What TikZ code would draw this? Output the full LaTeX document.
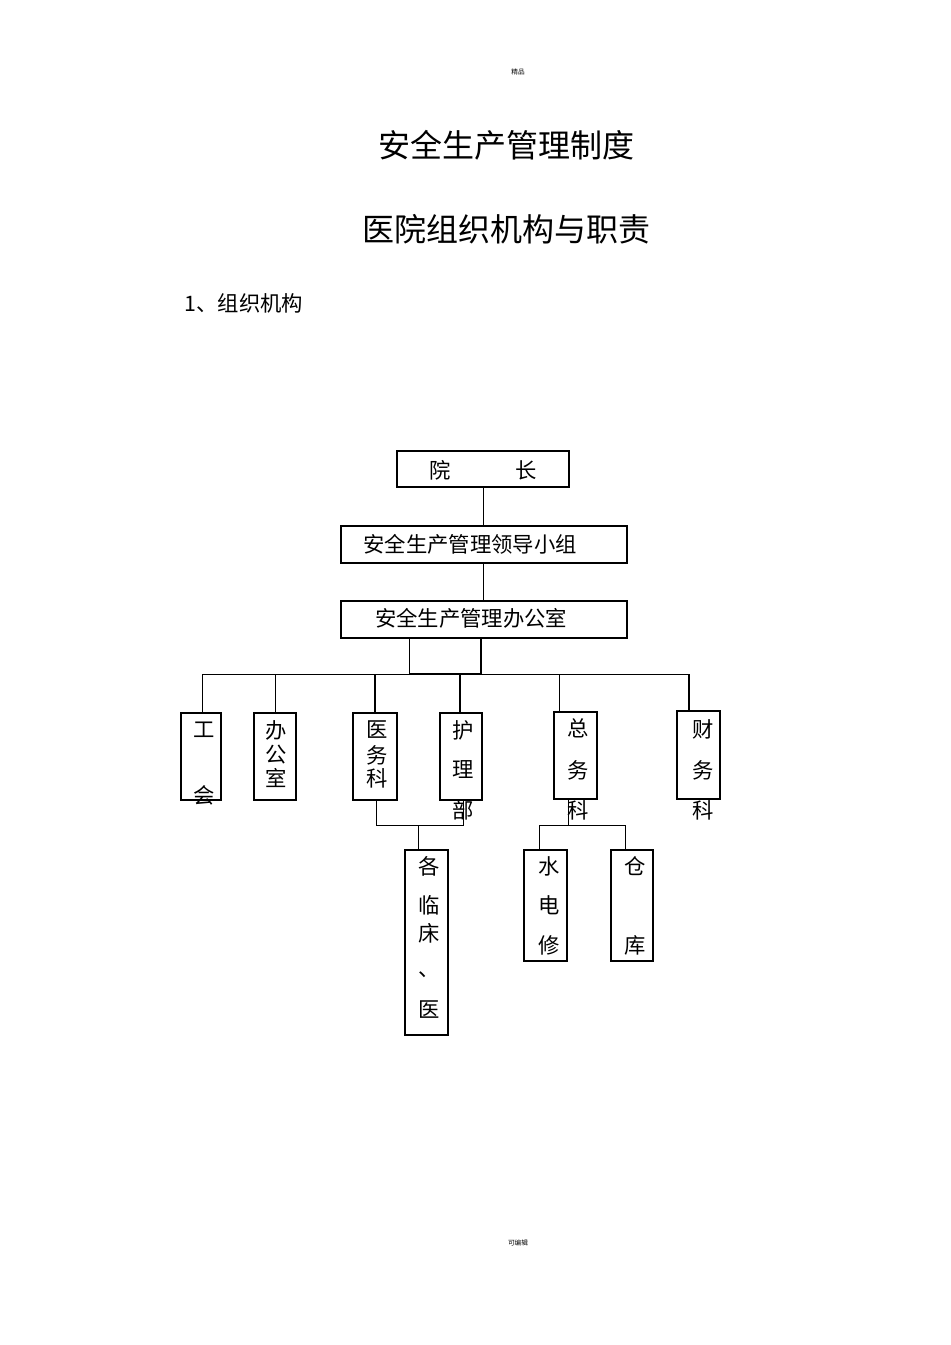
\documentclass[tikz,border=0pt]{standalone}
\usepackage{fontspec}
\setmainfont{Noto Sans CJK SC}
\begin{document}
\begin{tikzpicture}[x=0.75pt,y=-0.75pt,
  bx/.style={draw,line width=0.8pt},
  ln/.style={line width=0.7pt},
  tk/.style={line width=1.4pt},
  t/.style={inner sep=0pt,font=\fontsize{16}{16}\selectfont}]
\useasboundingbox (0,0) rectangle (950,1345);
\node[font=\fontsize{5}{5}\selectfont] (jp) at (518,72) {精品};
\node[font=\fontsize{5}{5}\selectfont] (kb) at (518,1243) {可编辑};
\node[font=\fontsize{24}{24}\selectfont] (t1) at (506,145) {安全生产管理制度};
\node[font=\fontsize{24}{24}\selectfont] (t2) at (506,229) {医院组织机构与职责};
\node[font=\fontsize{16}{16}\selectfont,anchor=west] (t3) at (180,303) {1、组织机构};
% boxes
\draw[bx] (397,451) rectangle (569,487);
\node[t] (yz) at (483,470) {院\hspace{3em}长};
\draw[bx] (341,526) rectangle (627,563);
\node[t] (ld) at (470,544) {安全生产管理领导小组};
\draw[bx] (341,601) rectangle (627,638);
\node[t] (bg) at (471,618) {安全生产管理办公室};
\draw[ln] (483,487) -- (483,526);
\draw[ln] (483,563) -- (483,601);
\draw[ln] (409,638) -- (409,674);
\draw[tk] (481,638) -- (481,674) -- (409,674);
\draw[ln] (202,674) -- (689,674);
\draw[ln] (202,674) -- (202,713);
\draw[ln] (275,674) -- (275,713);
\draw[tk] (375,674) -- (375,713);
\draw[tk] (460,674) -- (460,713);
\draw[ln] (559,674) -- (559,712);
\draw[tk] (689,674) -- (689,711);
\draw[bx] (181,713) rectangle (221,800);
\node[t] at (204,730) {工}; \node[t] at (204,795) {会};
\draw[bx] (254,713) rectangle (296,800);
\node[t] at (276,730) {办}; \node[t] at (276,755) {公}; \node[t] at (276,778) {室};
\draw[bx] (353,713) rectangle (397,800);
\node[t] at (377,730) {医}; \node[t] at (377,755) {务}; \node[t] at (377,778) {科};
\draw[bx] (440,713) rectangle (482,800);
\node[t] at (463,730) {护}; \node[t] at (463,770) {理}; \node[t] at (463,810) {部};
\draw[bx] (554,712) rectangle (597,799);
\node[t] at (578,728) {总}; \node[t] at (578,770) {务}; \node[t] at (578,810) {科};
\draw[bx] (677,711) rectangle (720,799);
\node[t] at (703,729) {财}; \node[t] at (703,770) {务}; \node[t] at (703,810) {科};
% lower
\draw[ln] (376,800) -- (376,825) -- (463,825) -- (463,800);
\draw[ln] (418,825) -- (418,850);
\draw[bx] (405,850) rectangle (448,1035);
\node[t] at (429,866) {各}; \node[t] at (429,905) {临}; \node[t] at (429,933) {床};
\node[t] at (429,975) {、}; \node[t] at (429,1010) {医};
\draw[ln] (568,799) -- (568,825);
\draw[ln] (539,850) -- (539,825) -- (625,825) -- (625,850);
\draw[bx] (524,850) rectangle (567,961);
\node[t] at (549,866) {水}; \node[t] at (549,905) {电}; \node[t] at (549,945) {修};
\draw[bx] (611,850) rectangle (653,961);
\node[t] at (635,866) {仓}; \node[t] at (635,945) {库};
\end{tikzpicture}
\end{document}
